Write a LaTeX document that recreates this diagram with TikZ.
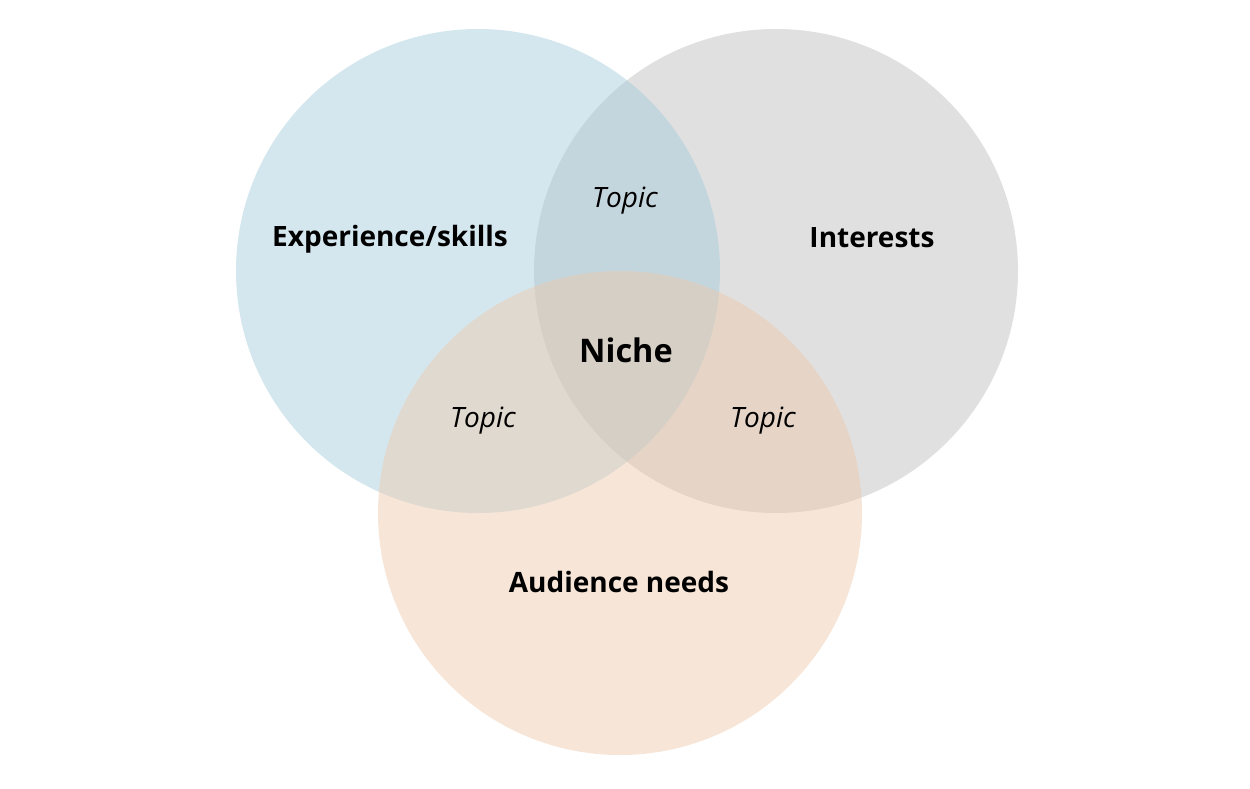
\documentclass[tikz,border=0pt]{standalone}
\usepackage{fontspec}
\setmainfont{Open Sans}
\usepackage{xcolor}
\definecolor{skillblue}{HTML}{A2CADA}
\definecolor{interestgray}{HTML}{BBBBBB}
\definecolor{needorange}{HTML}{EEC8A9}
\tikzset{
	venn/.style = {opacity=0.45, draw=none},
	setlabel/.style = {font=\fontsize{28}{32}\selectfont\bfseries},
	topiclabel/.style = {font=\fontsize{28}{32}\selectfont\itshape},
	nichelabel/.style = {font=\fontsize{32.5}{36}\selectfont\bfseries}
}

\begin{document}
\begin{tikzpicture}[x=1pt,y=-1pt,line cap=round,line join=round]
	\useasboundingbox (0,0) rectangle (1250,788);
	\fill [venn, fill=interestgray] (776,271) circle (242);
	\fill [venn, fill=skillblue] (478,271) circle (242);
	\fill [venn, fill=needorange] (620,513) circle (242);
	\node [setlabel] (skills) at (390,239) {Experience/skills};
	\node [setlabel] (interests) at (872,238) {Interests};
	\node [setlabel] (needs) at (619,582) {Audience needs};
	\node [nichelabel] (niche) at (626,350) {Niche};
	\node [topiclabel] (topicTop) at (625,201) {Topic};
	\node [topiclabel] (topicLeft) at (483,421) {Topic};
	\node [topiclabel] (topicRight) at (763,421) {Topic};
\end{tikzpicture}
\end{document}
